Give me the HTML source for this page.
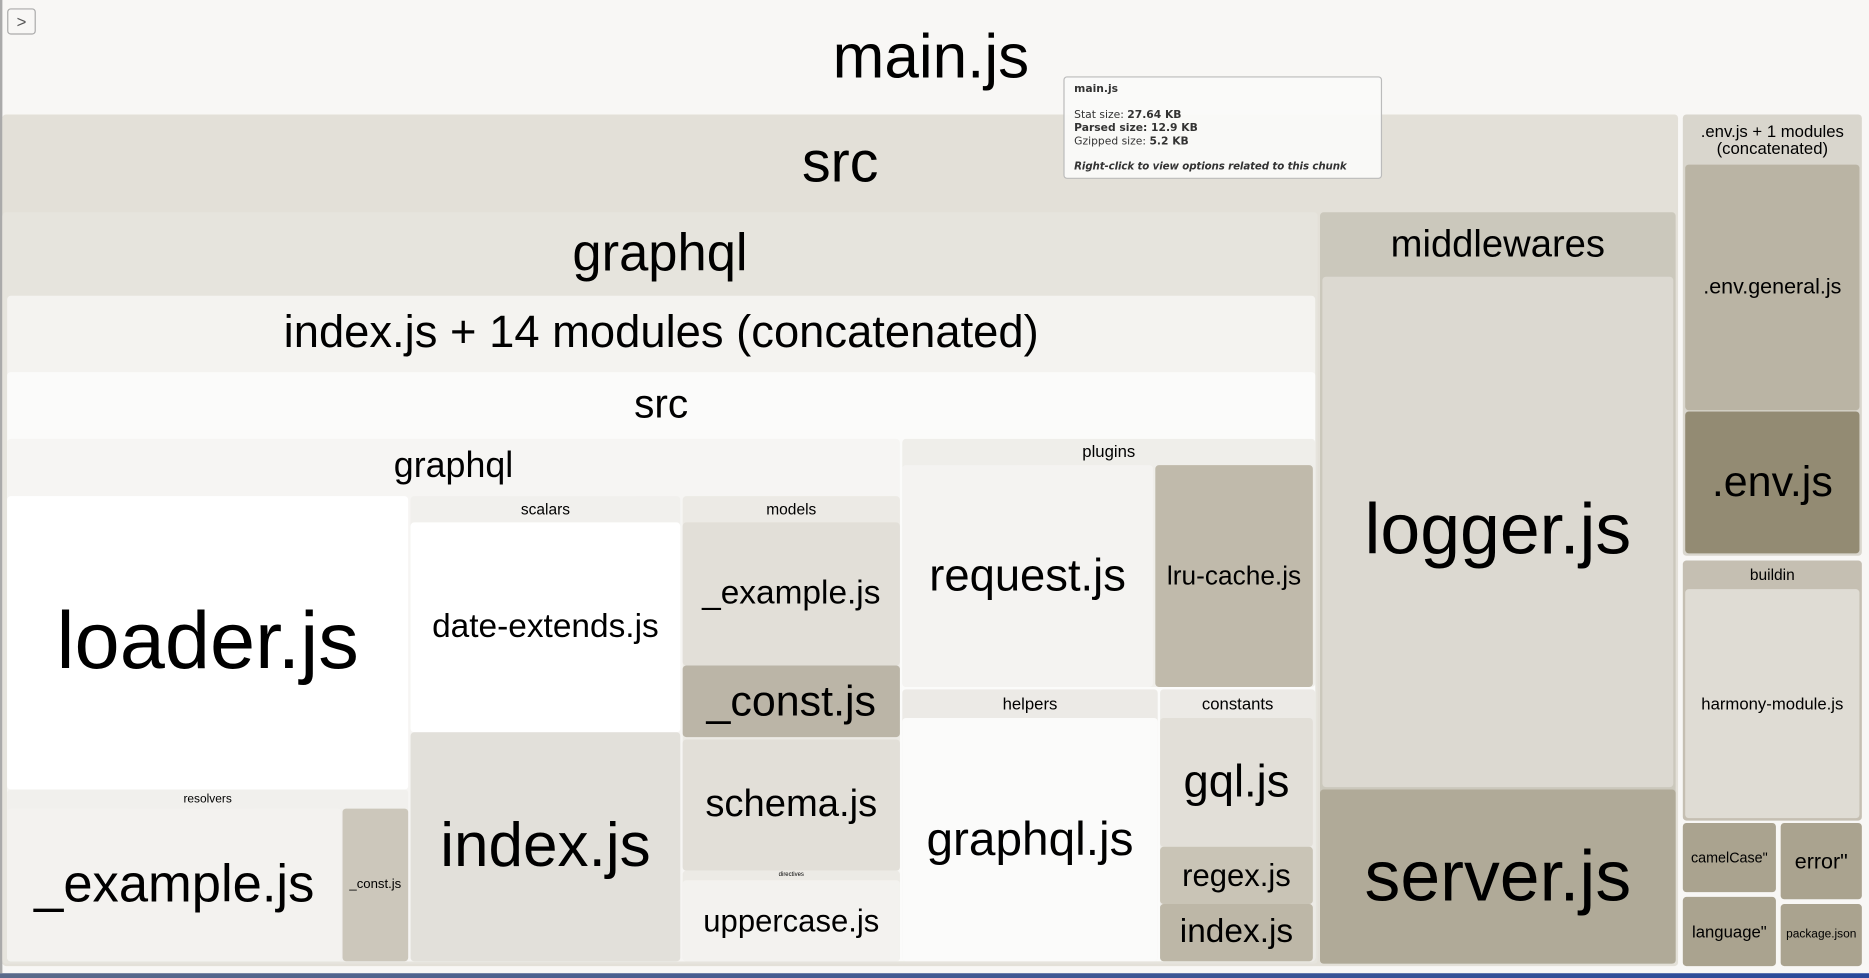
<!DOCTYPE html>
<html><head><meta charset="utf-8"><style>
html,body{margin:0;padding:0;width:1869px;height:978px;overflow:hidden;background:#fff}
#s{position:absolute;left:0;top:0;width:1566px;height:820px;transform:scale(1.19349,1.19268);transform-origin:0 0;font-family:"Liberation Sans",Arial,sans-serif;color:#000}
.b{position:absolute;box-sizing:border-box;border-radius:3px}
.l{position:absolute;left:0;right:0;text-align:center;white-space:nowrap;line-height:1;transform:translateY(-50%)}
</style></head><body><div id="s">
<div style="position:absolute;left:0;top:0;width:1566px;height:816px;background:#f8f7f5"></div>
<div style="position:absolute;left:0;top:816px;width:1566px;height:4px;background:linear-gradient(90deg,#5a6a8a,#2a4a9a)"></div>
<div style="position:absolute;left:0;top:0;width:2px;height:816px;background:#aaa"></div>
<div class="b" style="left:6px;top:7px;width:24px;height:22px;border:1px solid #aaa;border-radius:3px;background:#f8f7f5;font-size:14px;text-align:center;line-height:20px;color:#555">&gt;</div>
<div class="l" style="top:48px;font-size:52px;left:0;right:0;width:1560px">main.js</div>

<div class="b" style="left:2px;top:96px;width:1404px;height:714px;background:#e3e0d8"><div class="l" style="top:41px;font-size:48px">src</div></div>
<div class="b" style="left:2px;top:178px;width:1102px;height:630px;background:#e6e4dd"><div class="l" style="top:35px;font-size:44px">graphql</div></div>
<div class="b" style="left:6px;top:248px;width:1096px;height:558px;background:#f4f3f0"><div class="l" style="top:31px;font-size:38px">index.js + 14 modules (concatenated)</div></div>
<div class="b" style="left:6px;top:312px;width:1096px;height:494px;background:#fbfbfa"><div class="l" style="top:27px;font-size:34px">src</div></div>
<div class="b" style="left:6px;top:368px;width:748px;height:438px;background:#f6f5f3"><div class="l" style="top:23px;font-size:30px">graphql</div></div>

<div class="b" style="left:6px;top:416px;width:336px;height:246px;background:#fff"><div class="l" style="top:121px;font-size:68px">loader.js</div></div>
<div class="b" style="left:6px;top:662px;width:336px;height:144px;background:#f1f0ed"><div class="l" style="top:9px;font-size:10px">resolvers</div></div>
<div class="b" style="left:6px;top:678px;width:280px;height:128px;background:#f3f2ef"><div class="l" style="top:64px;font-size:44px">_example.js</div></div>
<div class="b" style="left:287px;top:678px;width:55px;height:128px;background:#ccc7bb"><div class="l" style="top:64px;font-size:11px">_const.js</div></div>

<div class="b" style="left:344px;top:416px;width:226px;height:198px;background:#f1f0ed"><div class="l" style="top:11px;font-size:13px">scalars</div></div>
<div class="b" style="left:344px;top:438px;width:226px;height:176px;background:#fff"><div class="l" style="top:87px;font-size:28px">date-extends.js</div></div>
<div class="b" style="left:344px;top:614px;width:226px;height:192px;background:#e2e0da"><div class="l" style="top:95px;font-size:52px">index.js</div></div>

<div class="b" style="left:572px;top:416px;width:182px;height:314px;background:#eceae5"><div class="l" style="top:11px;font-size:13px">models</div></div>
<div class="b" style="left:572px;top:438px;width:182px;height:120px;background:#e2dfd8"><div class="l" style="top:59px;font-size:28px">_example.js</div></div>
<div class="b" style="left:572px;top:558px;width:182px;height:60px;background:#bbb5a7"><div class="l" style="top:30px;font-size:36px">_const.js</div></div>
<div class="b" style="left:572px;top:620px;width:182px;height:110px;background:#e2dfd8"><div class="l" style="top:53px;font-size:32px">schema.js</div></div>
<div class="b" style="left:572px;top:730px;width:182px;height:76px;background:#eceae5"><div class="l" style="top:4px;font-size:5px">directives</div></div>
<div class="b" style="left:572px;top:738px;width:182px;height:68px;background:#f3f2ef"><div class="l" style="top:34px;font-size:26px">uppercase.js</div></div>

<div class="b" style="left:756px;top:368px;width:346px;height:208px;background:#efeeea"><div class="l" style="top:10px;font-size:14px">plugins</div></div>
<div class="b" style="left:756px;top:390px;width:210px;height:186px;background:#f4f3f1"><div class="l" style="top:93px;font-size:38px">request.js</div></div>
<div class="b" style="left:968px;top:390px;width:132px;height:186px;background:#c0baab"><div class="l" style="top:93px;font-size:22px">lru-cache.js</div></div>

<div class="b" style="left:756px;top:578px;width:214px;height:228px;background:#eceae6"><div class="l" style="top:12px;font-size:14px">helpers</div></div>
<div class="b" style="left:756px;top:602px;width:214px;height:204px;background:#fbfbfa"><div class="l" style="top:102px;font-size:40px">graphql.js</div></div>
<div class="b" style="left:972px;top:578px;width:130px;height:228px;background:#eceae6"><div class="l" style="top:12px;font-size:14px">constants</div></div>
<div class="b" style="left:972px;top:602px;width:128px;height:108px;background:#e2dfd8"><div class="l" style="top:54px;font-size:38px">gql.js</div></div>
<div class="b" style="left:972px;top:710px;width:128px;height:48px;background:#c9c4b6"><div class="l" style="top:24px;font-size:26px">regex.js</div></div>
<div class="b" style="left:972px;top:758px;width:128px;height:48px;background:#bdb7a7"><div class="l" style="top:23px;font-size:28px">index.js</div></div>

<div class="b" style="left:1106px;top:178px;width:298px;height:630px;background:#cbc8bc"><div class="l" style="top:26px;font-size:32px">middlewares</div></div>
<div class="b" style="left:1108px;top:232px;width:294px;height:428px;background:#dcd9d1"><div class="l" style="top:212px;font-size:60px">logger.js</div></div>
<div class="b" style="left:1106px;top:662px;width:298px;height:146px;background:#b0aa98"><div class="l" style="top:73px;font-size:60px">server.js</div></div>

<div class="b" style="left:1410px;top:96px;width:150px;height:370px;background:#d9d6cd"><div class="l" style="top:21px;font-size:14px;line-height:14px">.env.js + 1 modules<br>(concatenated)</div></div>
<div class="b" style="left:1412px;top:138px;width:146px;height:206px;background:#bab4a4"><div class="l" style="top:102px;font-size:18px">.env.general.js</div></div>
<div class="b" style="left:1412px;top:345px;width:146px;height:119px;background:#938b73"><div class="l" style="top:59px;font-size:36px">.env.js</div></div>
<div class="b" style="left:1410px;top:470px;width:150px;height:218px;background:#c5bfb2"><div class="l" style="top:12px;font-size:13px">buildin</div></div>
<div class="b" style="left:1412px;top:494px;width:146px;height:192px;background:#dfdcd4"><div class="l" style="top:96px;font-size:14px">harmony-module.js</div></div>
<div class="b" style="left:1410px;top:690px;width:78px;height:58px;background:#aaa38f"><div class="l" style="top:29px;font-size:12px">camelCase"</div></div>
<div class="b" style="left:1492px;top:690px;width:68px;height:64px;background:#aaa38f"><div class="l" style="top:32px;font-size:18px">error"</div></div>
<div class="b" style="left:1410px;top:752px;width:78px;height:58px;background:#aaa38f"><div class="l" style="top:29px;font-size:14px">language"</div></div>
<div class="b" style="left:1492px;top:758px;width:68px;height:52px;background:#aaa38f"><div class="l" style="top:26px;font-size:10px">package.json</div></div>

<div class="b" style="left:891px;top:64px;width:267px;height:86px;background:rgba(250,250,249,0.95);border:1px solid #bbb;font-family:'DejaVu Sans',Verdana,sans-serif;font-size:9px;color:#333;padding:5px 8px;line-height:11px;white-space:nowrap">
<div style="font-weight:bold">main.js</div><div style="height:11px"></div>
<div>Stat size: <b>27.64 KB</b></div>
<div><b>Parsed size: 12.9 KB</b></div>
<div>Gzipped size: <b>5.2 KB</b></div><div style="height:10px"></div>
<div style="font-weight:bold;font-style:italic;font-size:8.6px;letter-spacing:-0.1px">Right-click to view options related to this chunk</div>
</div>
</div></body></html>
